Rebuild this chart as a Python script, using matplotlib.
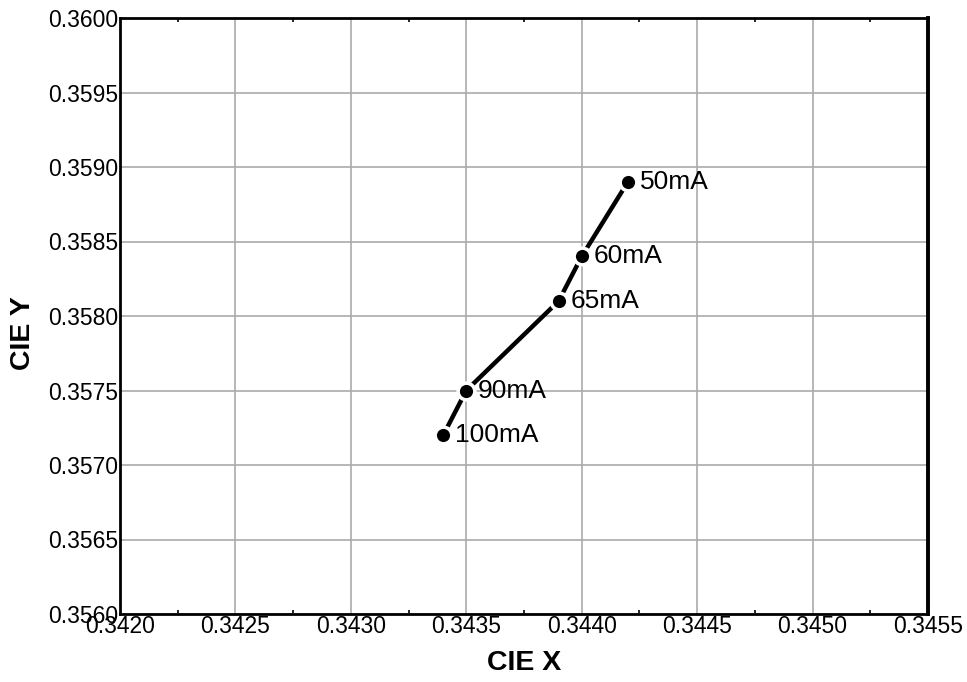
import matplotlib
matplotlib.use("Agg")
import matplotlib.pyplot as plt
from matplotlib.ticker import MultipleLocator, FormatStrFormatter

plt.rcParams['font.family'] = ['Liberation Sans', 'DejaVu Sans']

labels = ["50mA", "60mA", "65mA", "90mA", "100mA"]
cie_x = [0.3442, 0.3440, 0.3439, 0.3435, 0.3434]
cie_y = [0.3589, 0.3584, 0.3581, 0.3575, 0.3572]

fig = plt.figure(figsize=(9.67, 6.82), dpi=100)
ax = fig.add_axes([120/967, 1-614/682, 808/967, 596/682])

ax.plot(cie_x, cie_y, color='black', linewidth=3.2, marker='o', markersize=12,
        markerfacecolor='black', markeredgecolor='white', markeredgewidth=2.5, zorder=3)
for lx, ly, t in zip(cie_x, cie_y, labels):
    ax.annotate(t, (lx, ly), xytext=(8.5, 0), textcoords='offset points',
                ha='left', va='center', fontsize=19, zorder=4)

ax.set_xlim(0.3420, 0.3455)
ax.set_ylim(0.3560, 0.3600)
ax.xaxis.set_major_locator(MultipleLocator(0.0005))
ax.yaxis.set_major_locator(MultipleLocator(0.0005))
ax.xaxis.set_minor_locator(MultipleLocator(0.00025))
ax.xaxis.set_major_formatter(FormatStrFormatter('%.4f'))
ax.yaxis.set_major_formatter(FormatStrFormatter('%.4f'))
ax.grid(True, which='major', color='#aaaaaa', linewidth=1.2)
ax.tick_params(which='major', length=0, labelsize=16.5, pad=1)
ax.tick_params(axis='x', which='minor', direction='in', length=3, width=1.2, top=True, bottom=True)
for s in ax.spines.values():
    s.set_linewidth(2)
    s.set_color('black')
ax.spines['right'].set_linewidth(2.8)

ax.set_xlabel('CIE X', fontsize=20.5, fontweight='bold')
ax.set_ylabel('CIE Y', fontsize=20.5, fontweight='bold')
ax.xaxis.set_label_coords(0.5, -(663-614)/596, transform=ax.transAxes)
ax.xaxis.label.set_va('center')
ax.yaxis.set_label_coords(-(120-23)/808, (614-333)/596, transform=ax.transAxes)
ax.yaxis.label.set_va('center')

fig.savefig('out.png', dpi=100)
